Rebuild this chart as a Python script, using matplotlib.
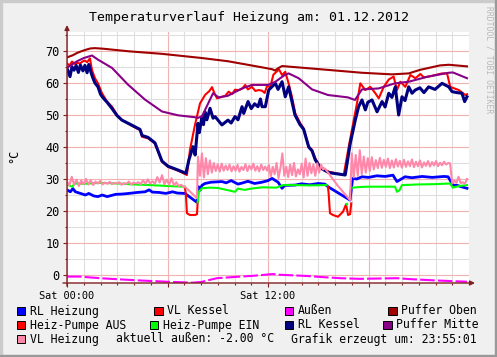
import numpy as np
import matplotlib
matplotlib.use('Agg')
import matplotlib.pyplot as plt
from matplotlib.patches import Rectangle

# ---------------- data (hours since 00:00, degC) ----------------
rl_heizung_h = [0.0,0.2,0.35,0.5,0.8,1.1,1.3,1.6,1.85,2.1,2.4,2.9,3.3,3.7,4.2,4.66,4.9,5.1,5.5,5.9,6.3,6.6,7.04,
                7.76,7.85,7.95,8.05,8.24,8.6,9.25,9.5,9.8,10.21,10.5,10.8,11.2,11.64,12.0,12.24,12.6,12.84,13.0,
                13.61,14.0,14.5,15.0,15.4,15.58,16.90,17.05,17.3,17.61,18.0,18.5,19.0,19.46,19.70,20.18,20.6,
                21.2,21.8,22.5,22.75,23.04,23.3,23.6,23.88]
rl_heizung_v = [26.6,26.0,27.0,26.0,25.5,25.0,25.5,24.7,24.5,25.0,24.5,25.2,25.3,25.5,25.8,26.0,26.6,25.9,25.8,25.5,26.0,25.6,25.5,
                22.7,27.6,26.5,28.0,28.6,29.0,29.2,28.8,29.5,28.4,28.8,29.3,28.6,29.0,29.5,30.2,29.0,27.1,28.0,
                28.1,28.5,28.2,28.6,28.4,27.6,23.4,30.2,30.0,30.7,30.5,31.0,30.8,31.2,29.2,30.7,30.4,
                30.8,30.5,30.8,30.7,28.1,28.0,27.5,27.1]

vl_kessel_h = [0.0,0.15,0.3,0.45,0.6,0.78,0.95,1.07,1.2,1.37,1.49,1.67,1.85,2.09,2.39,2.69,2.99,3.28,3.88,4.36,4.48,
               4.84,5.25,5.67,6.03,6.63,7.16,7.34,7.64,7.94,8.24,8.5,8.66,8.8,8.96,9.25,9.45,9.65,9.85,10.03,10.25,
               10.45,10.64,10.8,11.04,11.25,11.44,11.64,11.8,11.94,12.14,12.32,12.5,12.66,12.84,13.03,13.23,13.43,
               13.63,13.93,14.13,14.43,14.63,14.82,15.12,15.62,16.52,16.82,17.12,17.31,17.51,17.81,18.11,18.41,
               18.61,18.91,19.21,19.50,19.70,19.90,20.20,20.50,20.8,21.1,21.3,21.59,22.0,22.39,22.69,22.88,23.39,
               23.78,23.88]
vl_kessel_v = [66.1,65.5,66.7,66.0,66.3,66.1,66.8,67.0,66.5,67.7,64.1,61.5,59.9,56.8,54.2,52.6,50.0,48.4,46.6,45.3,43.2,
               42.7,41.1,35.4,33.8,32.6,31.25,39.1,46.9,53.6,56.25,57.5,58.7,56.8,55.2,55.7,56.0,57.3,56.5,57.9,57.8,
               58.2,59.4,58.0,58.8,57.5,57.8,57.6,56.9,59.0,58.8,62.6,63.5,64.2,62.5,63.5,59.9,55.7,
               50.5,47.4,45.8,40.1,39.1,36.5,33.8,32.3,31.25,40.1,48.4,53.6,59.9,57.8,58.8,56.8,
               55.2,58.8,61.1,62.0,57.8,60.4,58.8,62.5,61.5,62.8,61.8,62.0,62.5,63.0,63.0,58.8,57.8,
               56.25,56.5]

aussen_h = [0.0,0.78,1.97,3.94,5.95,7.0,7.5,8.0,8.94,9.5,10.33,11.0,12.3,12.6,14.3,15.1,16.3,17.5,18.5,19.7,20.5,22.0,23.88]
aussen_v = [-0.5,-0.5,-1.0,-1.6,-2.1,-2.3,-2.4,-2.2,-1.0,-0.8,-0.5,-0.3,0.3,0.1,-0.3,-0.6,-1.0,-1.2,-1.1,-1.0,-1.3,-1.7,-2.1]

puffer_oben_h = [0.0,0.36,0.6,0.9,1.19,1.4,1.67,2.2,3.7,5.7,8.06,9.61,11.64,12.25,12.42,12.6,12.84,15.58,17.61,19.4,
                 20.4,21.07,22.27,22.8,23.88]
puffer_oben_v = [68.0,68.7,69.4,70.0,70.5,70.8,70.9,70.7,69.9,69.1,67.8,66.8,64.9,64.3,63.9,64.6,65.3,64.1,63.2,62.7,
                 63.0,64.1,65.5,65.7,65.2]

pumpe_aus_h = [7.04,7.10,7.16,7.34,7.64,7.76,7.80,7.81,
               15.58,15.62,15.70,15.88,16.18,16.48,16.66,16.78,16.90,16.97]
pumpe_aus_v = [27.5,25.0,19.3,18.75,18.75,19.0,22.7,np.nan,
               27.5,25.5,19.3,18.75,18.2,19.8,22.1,18.75,19.0,22.4]

pumpe_ein_h = [0.0,0.3,0.48,1.0,2.0,3.0,4.0,5.0,6.0,7.0,7.02,
               7.80,7.86,8.06,8.5,9.0,9.61,10.03,10.2,10.6,11.0,11.64,12.5,12.9,13.6,14.5,15.5,15.55,
               16.70,16.72,16.74,
               17.05,17.5,18.0,19.0,19.58,19.70,19.85,20.0,21.0,22.0,22.87,23.04,23.4,23.88]
pumpe_ein_v = [28.3,27.6,28.6,28.5,28.8,28.6,28.3,28.1,27.8,27.6,np.nan,
               22.7,26.0,27.1,27.3,27.2,26.5,26.0,27.0,26.6,27.0,27.4,27.3,28.1,28.1,28.0,28.1,np.nan,
               22.1,22.2,np.nan,
               27.3,27.5,27.6,27.6,27.6,26.0,26.5,28.1,28.3,28.4,28.6,27.3,27.8,28.1]

rl_kessel_h = [0.0,0.18,0.3,0.42,0.55,0.68,0.8,0.95,1.07,1.2,1.3,1.45,1.55,1.67,1.85,2.0,2.09,2.25,2.39,2.69,2.99,3.28,
               3.88,4.36,4.48,4.84,5.25,5.67,6.03,6.63,7.1,7.28,7.52,7.65,7.82,7.9,8.06,8.15,8.24,8.35,8.54,8.72,
               8.84,9.25,9.61,9.8,10.03,10.21,10.45,10.55,10.81,11.0,11.2,11.4,11.55,11.64,11.84,12.04,12.44,12.6,
               12.84,13.03,13.23,13.43,13.61,13.91,14.13,14.43,14.63,14.82,15.12,15.62,16.61,16.91,17.21,17.41,
               17.61,17.81,17.96,18.21,18.51,18.81,18.99,19.21,19.40,19.60,19.80,20.0,20.18,20.40,20.60,20.79,
               21.07,21.31,21.59,21.97,22.39,22.79,22.99,23.28,23.58,23.74,23.88]
rl_kessel_v = [64.6,62.0,65.1,64.0,65.5,63.3,65.6,63.8,65.5,63.2,65.8,63.0,61.5,60.0,58.8,56.5,55.8,54.8,54.0,52.0,49.8,48.4,
               46.8,45.5,43.6,43.0,41.3,35.6,34.0,32.8,31.8,36.0,40.1,37.5,47.4,44.5,49.5,47.0,51.0,48.5,52.1,49.0,
               49.5,46.9,48.4,47.5,49.5,48.5,52.6,50.5,54.2,52.0,53.5,52.6,55.0,52.6,52.6,57.8,59.9,58.0,
               60.4,55.7,58.8,54.2,50.0,47.0,45.5,40.0,38.8,36.0,33.5,32.0,31.25,41.1,48.4,52.6,
               54.7,51.6,54.0,54.7,51.0,54.2,52.5,56.8,55.5,58.8,50.0,55.7,54.5,58.8,56.8,57.8,
               58.5,57.0,58.8,58.0,59.9,58.8,57.3,57.0,56.8,54.2,55.7]

puffer_mitte_h = [0.0,0.3,0.6,1.0,1.49,1.85,2.69,3.64,4.66,5.67,6.63,7.64,7.82,8.06,8.72,9.05,9.6,10.45,11.04,12.0,
                  12.44,13.0,13.23,13.83,14.63,15.58,16.78,17.19,17.61,18.6,19.58,20.4,21.55,22.79,23.04,23.88]
puffer_mitte_v = [64.8,65.8,66.8,67.8,68.6,67.3,64.7,59.5,54.8,51.1,49.9,49.3,49.1,49.6,56.8,55.5,56.0,58.3,59.4,59.4,
                  60.4,62.5,63.0,61.5,58.0,56.25,55.5,54.7,58.0,58.3,59.9,60.4,62.0,63.2,63.3,61.5]

# VL Heizung: regularly sampled segments (start h, end h, values)
vl_heizung_a = [29.2,28.0,30.7,28.2,29.8,27.8,29.5,28.4,30.0,28.3,29.6,28.1,29.2,28.6,29.4,28.3,28.9,28.5,29.1,28.4,
                28.8,28.6,29.0,28.2,28.7,28.5,29.2,28.3,28.9,28.6,29.0,28.4,29.6,28.5,29.9,28.6,29.3,28.5,30.6,28.9,
                31.2,28.4,29.8,28.2,30.2,28.0,29.0,27.8,28.2,27.6]
vl_heizung_b = [27.6,25.8,24.0]
vl_heizung_c = [37.0,31.0,38.0,30.5,36.5,31.5,35.8,32.0,35.0,32.5,34.6,32.3,34.8,32.6,34.2,32.8,34.5,32.4,34.0,32.6,
                34.4,32.3,33.8,32.8,34.6,32.5,34.2,33.0,34.8,32.6,34.0,32.4,34.5,32.8,33.9,32.6]
vl_heizung_d = [34.4,30.8,33.8,31.5,35.0,30.3,33.5,38.0,31.0,33.8,30.6,34.5,31.2,35.0,30.8,33.0,31.5,34.8,30.5,36.4,
                31.0,35.0,31.8,34.6,31.0,34.9,32.0,34.5,33.0,33.3]
vl_heizung_e = [33.3,28.0,23.4]
vl_heizung_f = [38.0,30.5,37.5,31.0,39.0,31.5,37.0,32.0,36.5,32.5,36.8,33.0,35.9,33.4,36.6,33.5,36.0,33.8,36.4,33.4,
                35.8,33.6,36.2,33.9,35.7,33.5,36.0,33.8,35.5,34.0,36.1,33.7,35.4,34.0,35.8,33.6,35.2,34.1,35.6,33.9,
                35.3,34.2,35.6,34.0,35.1,34.3,35.4,34.5,35.0,34.9]
vl_heizung_g = [28.6,29.5,28.8,30.7,28.7,29.0,28.5,30.0]
vl_heizung_segments = [(0.0, 6.95, vl_heizung_a), (7.04, 7.76, vl_heizung_b), (7.82, 11.95, vl_heizung_c),
                       (12.05, 15.4, vl_heizung_d), (15.4, 16.9, vl_heizung_e), (17.0, 22.87, vl_heizung_f),
                       (23.0, 23.88, vl_heizung_g)]

legend_labels = ['RL Heizung', 'VL Kessel', 'Außen', 'Puffer Oben', 'Heiz-Pumpe AUS', 'Heiz-Pumpe EIN',
                 'RL Kessel', 'Puffer Mitte', 'VL Heizung']
legend_colors = ['#0000ff', '#ff0000', '#ff00ff', '#a00000', '#ff0000', '#00ff00', '#000080', '#880088', '#ff88aa']
x_tick_labels = ['Sat 00:00', '', 'Sat 12:00', '']
title = 'Temperaturverlauf Heizung am: 01.12.2012'
info_aussen = 'aktuell außen: -2.00 °C'
info_time = 'Grafik erzeugt um: 23:55:01'

# ---------------- figure ----------------
W, H = 497, 357
MONO = 'DejaVu Sans Mono'
fig = plt.figure(figsize=(W / 100, H / 100), dpi=100)
fig.patch.set_facecolor('#f0f0f0')

def fx(px):
    return px / W

def fy(py):
    return 1 - py / H

# 3D-like frame
fig.patches.append(Rectangle((0, fy(2)), 1, 2 / H, transform=fig.transFigure, color='#cbcbcb', zorder=0))
fig.patches.append(Rectangle((0, 0), 2 / W, 1, transform=fig.transFigure, color='#cbcbcb', zorder=0))
fig.patches.append(Rectangle((0, 0), 1, 2 / H, transform=fig.transFigure, color='#999999', zorder=0))
fig.patches.append(Rectangle((1 - 2 / W, 0), 2 / W, 1, transform=fig.transFigure, color='#999999', zorder=0))

ax = fig.add_axes([fx(67), fy(283), fx(469) - fx(67), fy(32) - fy(283)])
ax.set_facecolor('white')
ax.set_xlim(0, 24)
ax.set_ylim(-2.5, 75.94)
for s in ax.spines.values():
    s.set_visible(False)

ax.set_xticks([0, 6, 12, 18])
ax.set_xticklabels(x_tick_labels, family=MONO, fontsize=7.4)
ax.set_xticks(np.arange(0, 24, 1), minor=True)
ax.set_yticks(np.arange(0, 80, 10))
ax.set_yticklabels([str(v) for v in range(0, 80, 10)], family=MONO, fontsize=8.6)
ax.set_yticks(np.arange(5, 80, 10), minor=True)
ax.tick_params(which='major', length=3, width=0.8, color='#802020', pad=2.4)
ax.tick_params(which='minor', length=1.5, width=0.8, color='#802020')
ax.tick_params(axis='x', which='major', pad=3)
ax.set_axisbelow(True)
ax.grid(which='minor', color='#dedede', lw=0.8)
ax.grid(which='major', color='#f2b2b2', lw=0.8)

lw = 1.5
ax.plot(rl_heizung_h, rl_heizung_v, color=legend_colors[0], lw=2.0, zorder=3)
ax.plot(vl_kessel_h, vl_kessel_v, color=legend_colors[1], lw=lw, zorder=3)
ax.plot(aussen_h, aussen_v, color=legend_colors[2], lw=lw, ls=(0, (7, 1.5)), zorder=3)
ax.plot(puffer_oben_h, puffer_oben_v, color=legend_colors[3], lw=lw, zorder=3)
ax.plot(pumpe_aus_h, pumpe_aus_v, color=legend_colors[4], lw=lw, zorder=3)
ax.plot(pumpe_ein_h, pumpe_ein_v, color=legend_colors[5], lw=lw, zorder=3)
ax.plot(rl_kessel_h, rl_kessel_v, color=legend_colors[6], lw=2.2, zorder=3)
ax.plot(puffer_mitte_h, puffer_mitte_v, color=legend_colors[7], lw=lw, zorder=3)
vh_h, vh_v = [], []
for t0, t1, vals in vl_heizung_segments:
    vh_h.extend(np.linspace(t0, t1, len(vals)))
    vh_v.extend(vals)
ax.plot(vh_h, vh_v, color=legend_colors[8], lw=lw, zorder=3)

# axis arrows
arrow_kw = dict(arrowstyle='-|>', color='#802020', lw=1.0, mutation_scale=7, shrinkA=0, shrinkB=0)
fig.add_artist(plt.Annotation('', xy=(fx(475), fy(283)), xytext=(fx(63), fy(283)),
                              xycoords='figure fraction', textcoords='figure fraction', arrowprops=arrow_kw))
fig.add_artist(plt.Annotation('', xy=(fx(67), fy(25)), xytext=(fx(67), fy(286)),
                              xycoords='figure fraction', textcoords='figure fraction', arrowprops=arrow_kw))

# texts
fig.text(fx(249), fy(17), title, ha='center', va='center', family=MONO, fontsize=9.5)
fig.text(fx(13.5), fy(156), '°C', ha='center', va='center', rotation=90, family=MONO, fontsize=8.6)
fig.text(fx(489), fy(6), 'RRDTOOL / TOBI OETIKER', ha='center', va='top', rotation=270,
         family=MONO, fontsize=5.8, color='#b8b8b8')

# legend
sq_pos = [(16.7, 311), (154.3, 311), (285, 311), (388.3, 311),
          (16.7, 325), (150, 325), (285, 325), (383.3, 325), (16.7, 339)]
sq = 8.3
for (px, py), lab, col in zip(sq_pos, legend_labels, legend_colors):
    fig.patches.append(Rectangle((fx(px), fy(py + sq / 2)), sq / W, sq / H, transform=fig.transFigure,
                                 facecolor=col, edgecolor='black', lw=0.7, zorder=5))
    fig.text(fx(px + 12.8), fy(py), lab, ha='left', va='center', family=MONO, fontsize=8.3)
fig.text(fx(116), fy(339), info_aussen, ha='left', va='center', family=MONO, fontsize=8.3)
fig.text(fx(291), fy(339), info_time, ha='left', va='center', family=MONO, fontsize=8.3)

fig.savefig('out.png', dpi=100, facecolor=fig.get_facecolor())
